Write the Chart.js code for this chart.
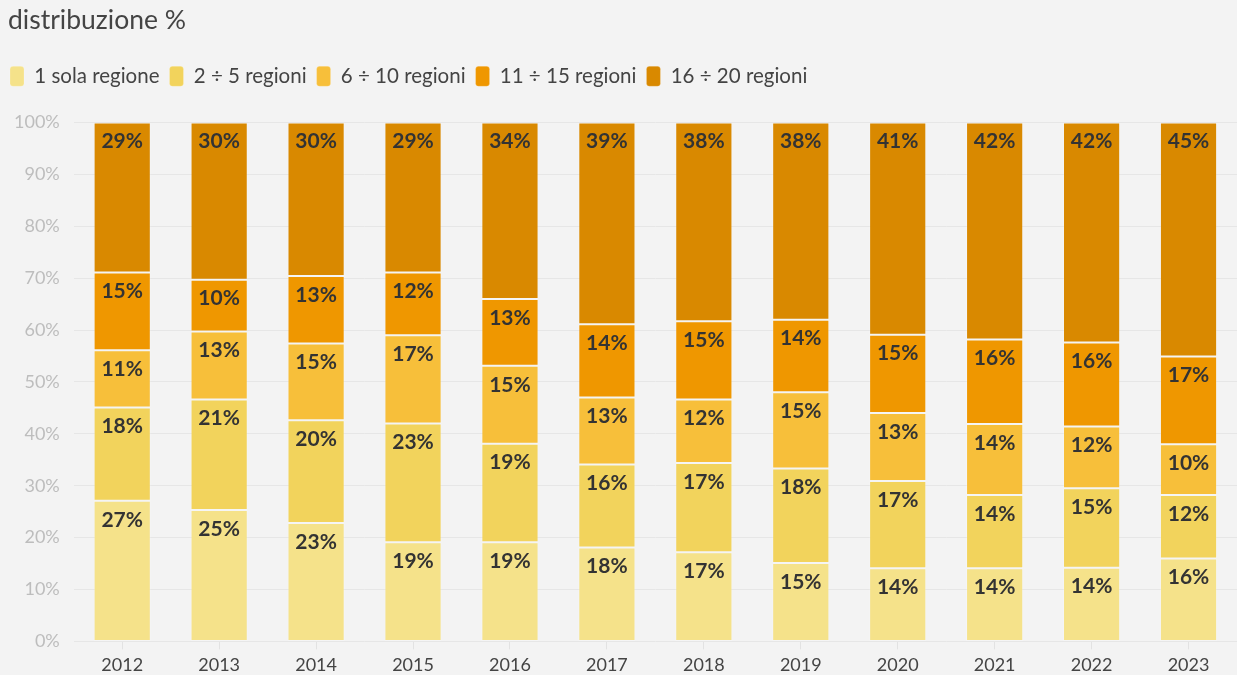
<!DOCTYPE html>
<html>
<head>
<meta charset="utf-8">
<script src="https://cdn.jsdelivr.net/npm/chart.js@4.4.1/dist/chart.umd.min.js"></script>
<style>
  html, body { margin: 0; padding: 0; background: #f3f3f3; }
  #wrap { width: 1237px; height: 675px; }
</style>
</head>
<body>
<div id="wrap"><canvas id="chart"></canvas></div>
<script>
// dati (distribuzione %)
var ANNI = ["2012","2013","2014","2015","2016","2017","2018","2019","2020","2021","2022","2023"];
var SERIE = ["1 sola regione", "2 ÷ 5 regioni", "6 ÷ 10 regioni", "11 ÷ 15 regioni", "16 ÷ 20 regioni"];
var UNA_REGIONE   = [27.1, 25.3, 22.8, 19.1, 19.1, 18.1, 17.2, 15.1, 14.1, 14.1, 14.2, 16.0];
var DA_2_A_5      = [18.0, 21.3, 19.8, 22.9, 19.0, 16.0, 17.2, 18.2, 16.8, 14.1, 15.3, 12.2];
var DA_6_A_10     = [11.0, 13.1, 14.8, 17.0, 15.0, 12.9, 12.2, 14.7, 13.1, 13.7, 11.9, 9.8];
var DA_11_A_15    = [15.0, 10.0, 13.0, 12.1, 12.9, 14.1, 15.1, 14.0, 15.1, 16.3, 16.2, 16.9];
var DA_16_A_20    = [28.9, 30.3, 29.6, 28.9, 34.0, 38.9, 38.3, 38.0, 40.9, 41.8, 42.4, 45.1];
var Y_TICKS = [0, 10, 20, 30, 40, 50, 60, 70, 80, 90, 100];
var TITOLO = "distribuzione %";

var COLORI = ["#f5e28a", "#f2d35c", "#f7bf3a", "#ef9700", "#d98900"];
var FONT = "Lato, 'Source Sans Pro', sans-serif";

var valori = [UNA_REGIONE, DA_2_A_5, DA_6_A_10, DA_11_A_15, DA_16_A_20];

// etichette % dentro le barre, vicino al bordo alto di ogni segmento
var etichette = {
    id: 'etichette',
    afterDatasetsDraw: function(chart) {
        var ctx = chart.ctx;
        ctx.save();
        ctx.font = "bold 21px " + FONT;
        ctx.fillStyle = "#333333";
        ctx.textAlign = "center";
        ctx.textBaseline = "middle";
        chart.data.datasets.forEach(function(ds, i) {
            var meta = chart.getDatasetMeta(i);
            meta.data.forEach(function(bar, j) {
                var top = Math.min(bar.y, bar.base);
                ctx.fillText(Math.round(ds.data[j]) + "%", bar.x, top + 19);
            });
        });
        ctx.restore();
    }
};

// titolo in alto a sinistra (spostato di 8px dal bordo)
var titolo = {
    id: 'titolo',
    afterDraw: function(chart) {
        var ctx = chart.ctx;
        ctx.save();
        ctx.font = "26.5px " + FONT;
        ctx.fillStyle = "#444444";
        ctx.textAlign = "left";
        ctx.textBaseline = "middle";
        ctx.fillText(TITOLO, 8, 20);
        ctx.restore();
    }
};

// più spazio sotto la legenda
var spazioLegenda = {
    id: 'spazioLegenda',
    beforeInit: function(chart) {
        var fit = chart.legend.fit;
        chart.legend.fit = function() {
            fit.bind(chart.legend)();
            this.height += 26;
        };
    }
};

var datasets = [];
for (var i = 0; i < SERIE.length; i++) {
    datasets.push({
        label: SERIE[i],
        data: valori[i],
        backgroundColor: COLORI[i],
        borderColor: "rgba(255,255,255,0.2)",
        borderWidth: 1,
        borderSkipped: false,
        categoryPercentage: 0.59,
        barPercentage: 1.0
    });
}

new Chart(document.getElementById("chart"), {
    type: 'bar',
    data: { labels: ANNI, datasets: datasets },
    plugins: [etichette, titolo, spazioLegenda],
    options: {
        responsive: true,
        maintainAspectRatio: false,
        animation: false,
        layout: { padding: { left: 0, right: 0, top: 56, bottom: -6 } },
        plugins: {
            title: { display: false },
            legend: {
                display: true,
                align: 'start',
                labels: {
                    boxWidth: 14,
                    boxHeight: 20,
                    useBorderRadius: true,
                    borderRadius: 3,
                    color: "#444444",
                    padding: 10,
                    font: { family: FONT, size: 20.5 }
                }
            },
            tooltip: { enabled: false }
        },
        scales: {
            x: {
                stacked: true,
                grid: { drawOnChartArea: false, drawTicks: true, tickLength: 8, color: "#e2e2e2", offset: false },
                border: { display: false },
                ticks: { color: "#444444", font: { family: FONT, size: 18 }, padding: 5 }
            },
            y: {
                stacked: true,
                min: 0,
                max: 100,
                afterBuildTicks: function(axis) {
                    axis.ticks = Y_TICKS.map(function(v) { return { value: v }; });
                },
                grid: { color: "#e6e6e6", drawTicks: false },
                border: { display: false },
                ticks: {
                    color: "#bdbdbd",
                    padding: 14,
                    font: { family: FONT, size: 18 },
                    callback: function(v) { return v + "%"; }
                }
            }
        }
    }
});
</script>
</body>
</html>
